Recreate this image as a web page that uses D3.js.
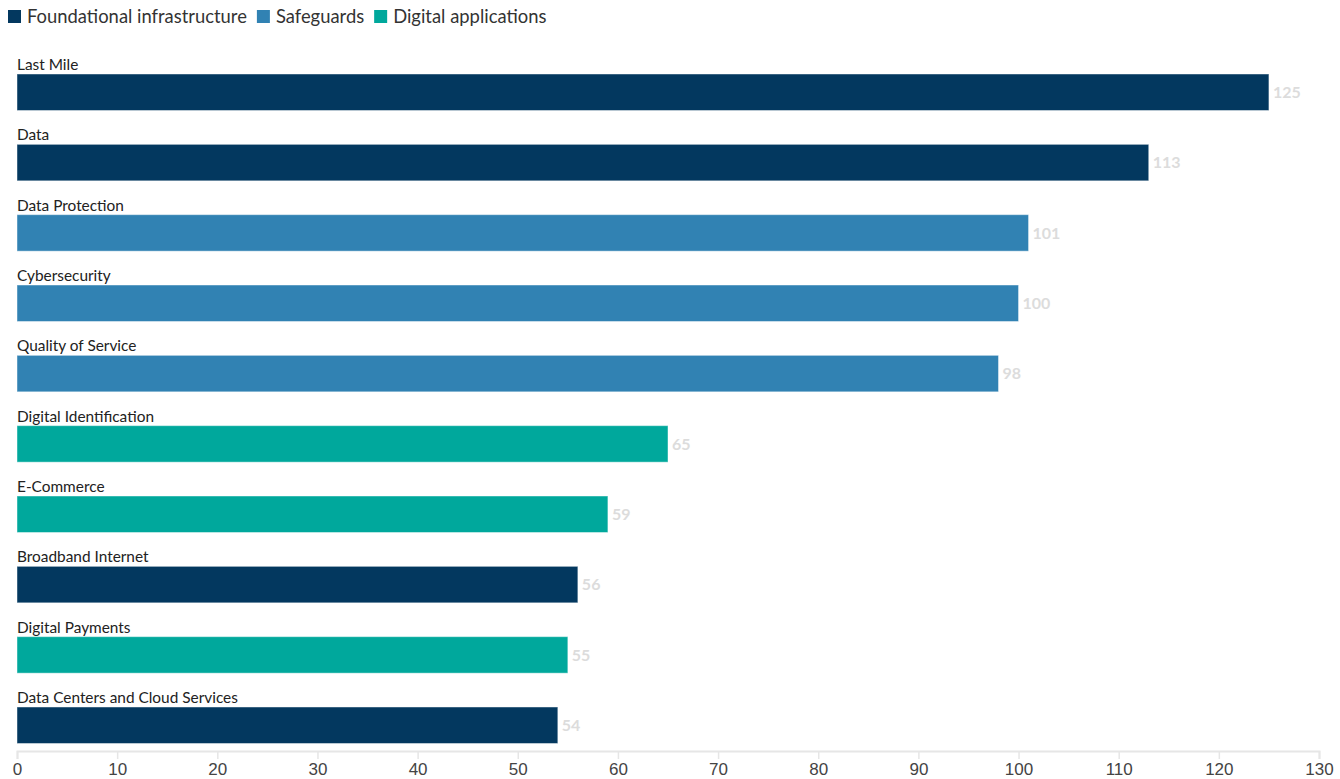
<!DOCTYPE html>
<html>
<head>
<meta charset="utf-8">
<script src="https://cdn.jsdelivr.net/npm/d3@7/dist/d3.min.js"></script>
<style>
  html, body { margin: 0; padding: 0; background: #fff; }
  svg { display: block; font-family: "Source Sans Pro", Lato, "Noto Sans", sans-serif; }
</style>
</head>
<body>
<svg id="chart" width="1340" height="779"></svg>
<script>
// Number of mentions per digital-economy policy area
const categories = [
  "Last Mile", "Data", "Data Protection", "Cybersecurity", "Quality of Service",
  "Digital Identification", "E-Commerce", "Broadband Internet", "Digital Payments",
  "Data Centers and Cloud Services"
];
const values = [125, 113, 101, 100, 98, 65, 59, 56, 55, 54];
const groups = [
  "Foundational infrastructure", "Foundational infrastructure", "Safeguards", "Safeguards", "Safeguards",
  "Digital applications", "Digital applications", "Foundational infrastructure", "Digital applications",
  "Foundational infrastructure"
];
const groupNames = ["Foundational infrastructure", "Safeguards", "Digital applications"];
const groupColors = ["#03385f", "#3182b3", "#00a89c"];
const xTicks = [0, 10, 20, 30, 40, 50, 60, 70, 80, 90, 100, 110, 120, 130];

const svg = d3.select("#chart");
const color = d3.scaleOrdinal().domain(groupNames).range(groupColors);

const x = d3.scaleLinear().domain([0, 130]).range([17, 1319]);
const y = d3.scaleBand().domain(categories).range([74, 743.5]).paddingInner(0.481).paddingOuter(0);

// Legend
const legend = svg.append("g").attr("transform", "translate(8,0)");
let lx = 0;
groupNames.forEach((g) => {
  const item = legend.append("g").attr("transform", `translate(${lx},0)`);
  item.append("rect").attr("x", 0).attr("y", 10).attr("width", 13).attr("height", 13).attr("fill", color(g));
  const t = item.append("text").attr("x", 19).attr("y", 23).attr("font-size", 18.4).attr("fill", "#333").text(g);
  lx += 19 + t.node().getComputedTextLength() + 10;
});

// Axis
const axis = svg.append("g")
  .attr("transform", "translate(0,751)")
  .call(d3.axisBottom(x).tickValues(xTicks).tickSize(8).tickSizeOuter(8).tickPadding(4));
axis.select(".domain").attr("stroke", "#e6e6e6").attr("stroke-width", 2);
axis.selectAll(".tick line").attr("stroke", "#e6e6e6").attr("stroke-width", 1.5);
axis.selectAll(".tick text").attr("font-size", 17).attr("fill", "#444").attr("font-family", "inherit");

// Bars
const rows = svg.append("g").selectAll("g").data(categories).join("g");
rows.append("rect")
  .attr("x", x(0))
  .attr("y", d => y(d))
  .attr("width", (d, i) => x(values[i]) - x(0))
  .attr("height", y.bandwidth())
  .attr("fill", (d, i) => color(groups[i]))
  .attr("stroke", "rgba(255,255,255,0.45)")
  .attr("stroke-width", 1);

// Category labels above each bar
rows.append("text")
  .attr("x", x(0))
  .attr("y", d => y(d) - 4)
  .attr("font-size", 15.4)
  .attr("fill", "#222")
  .text(d => d);

// Value labels at bar ends
rows.append("text")
  .attr("x", (d, i) => x(values[i]) + 4)
  .attr("y", d => y(d) + y.bandwidth() / 2)
  .attr("dy", "0.35em")
  .attr("font-size", 16)
  .attr("font-weight", "bold")
  .attr("fill", "#dcdcdc")
  .text((d, i) => values[i]);
</script>
</body>
</html>
